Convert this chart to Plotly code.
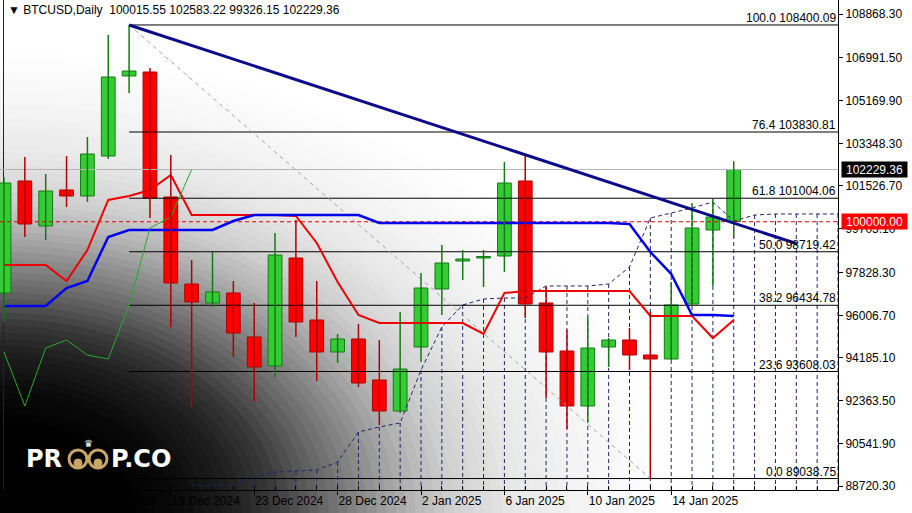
import plotly.graph_objects as go

# ---------------- data ----------------
candle_idx = list(range(36))
opens = [96959, 101740, 99819, 101356, 101099, 102807, 106222, 106392, 101057, 97343,
         96532, 96959, 95081, 93843, 98453, 95806, 94440, 94995, 93245, 91922,
         94654, 97130, 98325, 98453, 98538, 101740, 96532, 94483, 92135, 94654,
         94953, 94312, 94142, 96489, 99648, 100015.55]
highs = [101910, 102764, 102038, 102807, 103618, 107972, 108400.09, 106563, 102850, 98367,
         98709, 97471, 96532, 99520, 100075, 97471, 95209, 95636, 94953, 96148,
         97813, 99008, 98794, 98794, 102551, 102850, 97215, 95380, 95934, 95038,
         95465, 96148, 97428, 100801, 100971, 102583.22]
lows = [95721, 99349, 99221, 100630, 100843, 102679, 105496, 100160, 95508, 92093,
        96361, 94227, 92306, 93373, 95081, 93202, 93971, 92946, 91324, 91837,
        94014, 96020, 97514, 97215, 97855, 95892, 92477, 91154, 91452, 93800,
        93672, 89038.75, 94099, 96447, 97258, 99326.15]
closes = [101654, 99904, 101313, 101099, 102892, 106179, 106435, 101014, 97386, 96575,
          97002, 95251, 93800, 98581, 95721, 94440, 94995, 93117, 91922, 93715,
          97172, 98240, 98410, 98517, 101654, 96489, 94440, 92135, 94611, 94953,
          94312, 94142, 96447, 99734, 100203, 102229.36]

tenkan = [98154, 98154, 98154, 97471, 98794, 100929, 101099, 101356, 101996, 100288,
          100288, 100288, 100288, 100288, 100246, 99093, 97428, 96020, 95678, 95678,
          95678, 95678, 95678, 95209, 96959, 97044, 97044, 97044, 97044, 97044,
          97044, 95977, 95977, 95977, 95038, 95806]
kijun = [96404, 96404, 96404, 97172, 97471, 99349, 99648, 99648, 99648, 99648,
         99648, 100032, 100288, 100288, 100288, 100288, 100288, 100288, 99947, 99947,
         99947, 99947, 99947, 99947, 99947, 99947, 99947, 99947, 99947, 99947,
         99904, 98709, 97770, 96020, 96020, 95977]
chikou_shift = 26

cloud_idx = list(range(9, 41))
cloud_top = [88763, 88720, 88763, 89105, 89318, 89361, 89403, 89745, 91025, 91239,
             91410, 93672, 95508, 96447, 96703, 96745, 96745, 97258, 97258, 97258,
             97343, 98069, 100160, 100374, 100587, 100843, 100032, 100288, 100331, 100331,
             100331, 100331]
cloud_hatch_from = 12

tick_idx = [0, 4, 8, 12, 16, 20, 24, 28, 32]
tick_labels = ["11 Dec 2024", "15 Dec 2024", "19 Dec 2024", "23 Dec 2024", "28 Dec 2024",
               "2 Jan 2025", "6 Jan 2025", "10 Jan 2025", "14 Jan 2025"]
price_ticks = [108868.30, 106991.50, 105169.90, 103348.30, 101526.70, 99705.10,
               97828.30, 96006.70, 94185.10, 92363.50, 90541.90, 88720.30]

fib_levels = [100.0, 76.4, 61.8, 50.0, 38.2, 23.6, 0.0]
fib_prices = [108400.09, 103830.81, 101004.06, 98719.42, 96434.78, 93608.03, 89038.75]
fib_from_idx = 6
fib_to_idx = 31

trend_idx = [6, 38]
trend_price = [108400.09, 99070]

current_price = 102229.36
round_level = 100000.00
header = "▼ BTCUSD,Daily\u00a0\u00a0100015.55 102583.22 99326.15 102229.36"

X_MIN, X_MAX = -0.192, 40.0
Y_MIN, Y_MAX = 88549.8, 109465.9

# ---------------- figure ----------------
W, H = 912, 513
ML, MR, MT, MB = 0, 74, 0, 23
PW, PH = W - ML - MR, H - MT - MB

FONT = "Liberation Sans"
FS = 12
fig = go.Figure()


def px(x):
    return x / PW


def py(y):
    return 1 - y / PH


# cloud hatch (vertical dashed lines)
hx, hy = [], []
for i, t in zip(cloud_idx, cloud_top):
    if i >= cloud_hatch_from:
        hx += [i, i, None]
        hy += [t, Y_MIN, None]
fig.add_trace(go.Scatter(x=hx, y=hy, mode="lines",
                         line=dict(color="#23236e", width=1, dash="4px,3px"),
                         hoverinfo="skip", showlegend=False))
fig.add_trace(go.Scatter(x=cloud_idx, y=cloud_top, mode="lines",
                         line=dict(color="#23236e", width=1, dash="4px,3px"),
                         hoverinfo="skip", showlegend=False))

# fib levels
for p in fib_prices:
    fig.add_trace(go.Scatter(x=[fib_from_idx, X_MAX], y=[p, p], mode="lines",
                             line=dict(color="black", width=1),
                             hoverinfo="skip", showlegend=False))
fig.add_trace(go.Scatter(x=[fib_from_idx, fib_to_idx], y=[fib_prices[0], fib_prices[-1]],
                         mode="lines", line=dict(color="#a0a0a0", width=1, dash="4px,4px"),
                         hoverinfo="skip", showlegend=False))

# price lines
fig.add_trace(go.Scatter(x=[X_MIN, X_MAX], y=[current_price, current_price], mode="lines",
                         line=dict(color="#b4b4b4", width=1), hoverinfo="skip", showlegend=False))
fig.add_trace(go.Scatter(x=[X_MIN, X_MAX], y=[round_level, round_level], mode="lines",
                         line=dict(color="#e00000", width=1, dash="4px,3px"),
                         hoverinfo="skip", showlegend=False))

# ichimoku lines
fig.add_trace(go.Scatter(x=candle_idx, y=tenkan, mode="lines",
                         line=dict(color="#ee0000", width=2), hoverinfo="skip", showlegend=False))
fig.add_trace(go.Scatter(x=candle_idx, y=kijun, mode="lines",
                         line=dict(color="#0000ee", width=2.5), hoverinfo="skip", showlegend=False))
fig.add_trace(go.Scatter(x=candle_idx[:len(closes) - chikou_shift], y=closes[chikou_shift:],
                         mode="lines", line=dict(color="#2aa82a", width=1),
                         hoverinfo="skip", showlegend=False))

# candles
up = [c >= o for o, c in zip(opens, closes)]
for is_up, edge, fill in [(True, "#157a15", "#33cc33"), (False, "#b00000", "#ff0000")]:
    wx, wy = [], []
    bx, bb, bh = [], [], []
    for i, o, h, l, c, u in zip(candle_idx, opens, highs, lows, closes, up):
        if u != is_up:
            continue
        wx += [i, i, None]
        wy += [l, h, None]
        bx.append(i)
        bb.append(min(o, c))
        bh.append(abs(c - o))
    fig.add_trace(go.Scatter(x=wx, y=wy, mode="lines", line=dict(color=edge, width=1.5),
                             hoverinfo="skip", showlegend=False))
    fig.add_trace(go.Bar(x=bx, y=bh, base=bb, width=0.66,
                         marker=dict(color=fill, line=dict(color=edge, width=1)),
                         hoverinfo="skip", showlegend=False))

# trendline
fig.add_trace(go.Scatter(x=trend_idx, y=trend_price, mode="lines",
                         line=dict(color="#0c0c8a", width=3), hoverinfo="skip", showlegend=False))

# ---------------- background: stepped elliptical gradient from bottom-left ----------------
grad_r = [0.0, 0.25, 0.35, 0.45, 0.53, 0.62, 0.71, 0.80, 0.88, 1.0, 1.15, 1.3]
grad_v = [0, 0, 10, 30, 55, 100, 140, 180, 208, 232, 246, 255]
RX, RY = 520, 360
CX, CY = 0, 513


def shade(r):
    if r >= grad_r[-1]:
        return grad_v[-1]
    for k in range(len(grad_r) - 1):
        if grad_r[k] <= r <= grad_r[k + 1]:
            t = (r - grad_r[k]) / (grad_r[k + 1] - grad_r[k])
            return grad_v[k] + t * (grad_v[k + 1] - grad_v[k])
    return grad_v[0]


shapes = []
steps = 70
for s in range(steps, 0, -1):
    r = grad_r[-1] * s / steps
    v = int(round(shade(r)))
    rx, ry = RX * r, RY * r
    shapes.append(dict(type="circle", xref="paper", yref="paper", layer="below",
                       x0=px(CX - rx), x1=px(CX + rx), y0=py(CY + ry), y1=py(CY - ry),
                       line=dict(width=0), fillcolor=f"rgb({v},{v},{v})"))

# annotations
ann = []
ann.append(dict(text=header, xref="paper", yref="paper", x=0, y=1, xanchor="left",
                yanchor="top", xshift=6, yshift=-1, showarrow=False,
                font=dict(family=FONT, size=FS, color="black")))
for lvl, p in zip(fib_levels, fib_prices):
    ann.append(dict(text=f"{lvl:.1f} {p:.2f}", xref="paper", yref="y", x=1, y=p,
                    xanchor="right", yanchor="bottom", xshift=0, yshift=-2, showarrow=False,
                    font=dict(family=FONT, size=FS, color="black")))
ann.append(dict(text=f"{current_price:.2f}", xref="paper", yref="y", x=1, y=current_price,
                xanchor="left", yanchor="middle", xshift=3, showarrow=False,
                bgcolor="black", width=63, height=13, borderpad=1,
                font=dict(family=FONT, size=FS, color="white")))
ann.append(dict(text=f"{round_level:.2f}", xref="paper", yref="y", x=1, y=round_level,
                xanchor="left", yanchor="middle", xshift=3, showarrow=False,
                bgcolor="#ff0000", width=63, height=13, borderpad=1,
                font=dict(family=FONT, size=FS, color="white")))

# logo
LOGO_FONT = "DejaVu Sans"
ann.append(dict(text="<b>PR</b>", xref="paper", yref="paper", x=px(24), y=py(459),
                xanchor="left", yanchor="middle", showarrow=False,
                font=dict(family=LOGO_FONT, size=24, color="white")))
ann.append(dict(text="<b>P.CO</b>", xref="paper", yref="paper", x=px(109), y=py(459),
                xanchor="left", yanchor="middle", showarrow=False,
                font=dict(family=LOGO_FONT, size=24, color="white")))
ann.append(dict(text="♛", xref="paper", yref="paper", x=px(88), y=py(443),
                xanchor="center", yanchor="middle", showarrow=False,
                font=dict(family=LOGO_FONT, size=10, color="white")))

for cx in (78, 98):
    shapes.append(dict(type="circle", xref="paper", yref="paper",
                       x0=px(cx - 9), x1=px(cx + 9), y0=py(468), y1=py(450),
                       line=dict(color="#c8a766", width=3), fillcolor="rgba(0,0,0,0)"))
    shapes.append(dict(type="circle", xref="paper", yref="paper",
                       x0=px(cx - 4), x1=px(cx + 4), y0=py(467), y1=py(459),
                       line=dict(color="#c8a766", width=1), fillcolor="#c8a766"))
# chart left border
shapes.append(dict(type="line", xref="paper", yref="paper", x0=px(3.5), x1=px(3.5),
                   y0=0, y1=1, layer="below", line=dict(color="#222", width=1)))

fig.update_layout(
    width=W, height=H, margin=dict(l=ML, r=MR, t=MT, b=MB),
    paper_bgcolor="white", plot_bgcolor="rgba(0,0,0,0)",
    barmode="overlay", showlegend=False, annotations=ann, shapes=shapes,
    font=dict(family=FONT, size=FS, color="black"),
)
fig.update_xaxes(range=[X_MIN, X_MAX], showgrid=False, zeroline=False,
                 tickmode="array", tickvals=tick_idx, ticktext=tick_labels,
                 ticks="outside", ticklen=4, tickcolor="black",
                 ticklabelposition="outside right",
                 showline=True, linecolor="black", linewidth=1,
                 tickfont=dict(family=FONT, size=FS, color="black"),
                 minor=dict(tickmode="linear", tick0=0, dtick=1, ticks="inside",
                            ticklen=4, tickcolor="black"))
fig.update_yaxes(range=[Y_MIN, Y_MAX], side="right", showgrid=False, zeroline=False,
                 tickmode="array", tickvals=price_ticks,
                 ticktext=[f"{v:.2f}" for v in price_ticks],
                 ticks="outside", ticklen=4, tickcolor="black",
                 showline=True, linecolor="black", linewidth=1,
                 tickfont=dict(family=FONT, size=FS, color="black"))

fig.write_html("out.html", config={"displayModeBar": False},
               post_script="document.body.style.margin='0px';")
